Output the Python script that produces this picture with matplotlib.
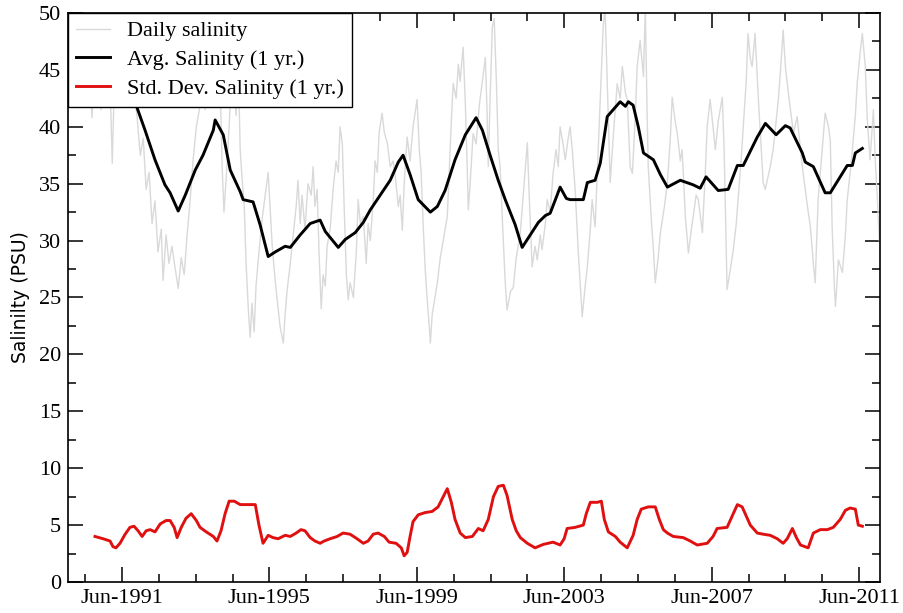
import matplotlib
matplotlib.use("Agg")
import matplotlib.pyplot as plt
import matplotlib.dates as mdates
import numpy as np
import pandas as pd

# daily salinity record (decimal year, PSU)
daily_year = [
    1990.06, 1990.17, 1990.28, 1990.39, 1990.44, 1990.52, 1990.60, 1990.66, 1990.77, 1990.85,
    1990.93, 1991.04, 1991.09, 1991.15, 1991.20, 1991.31, 1991.42, 1991.53, 1991.63, 1991.74,
    1991.82, 1991.91, 1991.99, 1992.07, 1992.15, 1992.23, 1992.31, 1992.39, 1992.48, 1992.53,
    1992.61, 1992.69, 1992.77, 1992.86, 1992.94, 1993.02, 1993.10, 1993.18, 1993.26, 1993.34,
    1993.43, 1993.51, 1993.59, 1993.67, 1993.75, 1993.83, 1993.91, 1993.99, 1994.08, 1994.13,
    1994.18, 1994.27, 1994.35, 1994.43, 1994.51, 1994.56, 1994.62, 1994.67, 1994.73, 1994.78,
    1994.84, 1994.89, 1994.94, 1995.00, 1995.05, 1995.13, 1995.22, 1995.30, 1995.38, 1995.43,
    1995.49, 1995.57, 1995.65, 1995.70, 1995.79, 1995.84, 1995.89, 1995.98, 1996.06, 1996.14,
    1996.19, 1996.25, 1996.30, 1996.38, 1996.46, 1996.55, 1996.60, 1996.65, 1996.71, 1996.76,
    1996.82, 1996.87, 1996.93, 1996.98, 1997.06, 1997.14, 1997.22, 1997.28, 1997.33, 1997.39,
    1997.44, 1997.50, 1997.55, 1997.60, 1997.69, 1997.77, 1997.82, 1997.88, 1997.96, 1998.04,
    1998.09, 1998.15, 1998.23, 1998.28, 1998.34, 1998.39, 1998.47, 1998.53, 1998.61, 1998.69,
    1998.77, 1998.83, 1998.91, 1998.96, 1999.02, 1999.07, 1999.15, 1999.23, 1999.31, 1999.42,
    1999.48, 1999.53, 1999.59, 1999.64, 1999.69, 1999.75, 1999.78, 1999.83, 1999.88, 1999.97,
    2000.05, 2000.13, 2000.24, 2000.29, 2000.35, 2000.40, 2000.48, 2000.54, 2000.59, 2000.67,
    2000.73, 2000.78, 2000.81, 2000.86, 2000.94, 2001.02, 2001.11, 2001.19, 2001.27, 2001.32,
    2001.35, 2001.40, 2001.46, 2001.51, 2001.57, 2001.62, 2001.67, 2001.73, 2001.81, 2001.86,
    2001.95, 2002.03, 2002.11, 2002.22, 2002.30, 2002.41, 2002.46, 2002.54, 2002.62, 2002.68,
    2002.76, 2002.81, 2002.90, 2002.95, 2003.03, 2003.11, 2003.19, 2003.25, 2003.30, 2003.38,
    2003.44, 2003.52, 2003.57, 2003.63, 2003.71, 2003.79, 2003.85, 2003.90, 2003.98, 2004.04,
    2004.12, 2004.17, 2004.25, 2004.31, 2004.39, 2004.47, 2004.52, 2004.58, 2004.66, 2004.74,
    2004.85, 2004.93, 2004.99, 2005.07, 2005.12, 2005.20, 2005.26, 2005.34, 2005.39, 2005.47,
    2005.56, 2005.61, 2005.66, 2005.69, 2005.77, 2005.83, 2005.88, 2005.96, 2006.02, 2006.13,
    2006.21, 2006.29, 2006.34, 2006.42, 2006.48, 2006.56, 2006.61, 2006.70, 2006.78, 2006.86,
    2006.91, 2006.99, 2007.05, 2007.16, 2007.24, 2007.29, 2007.37, 2007.45, 2007.51, 2007.59,
    2007.70, 2007.75, 2007.78, 2007.83, 2007.92, 2008.00, 2008.08, 2008.13, 2008.21, 2008.27,
    2008.35, 2008.40, 2008.46, 2008.51, 2008.59, 2008.68, 2008.76, 2008.81, 2008.87, 2008.92,
    2009.00, 2009.08, 2009.16, 2009.22, 2009.30, 2009.35, 2009.41, 2009.49, 2009.54, 2009.63,
    2009.73, 2009.82, 2009.87, 2009.95, 2010.01, 2010.09, 2010.17, 2010.22, 2010.30, 2010.36,
    2010.41, 2010.49, 2010.58, 2010.63, 2010.68, 2010.74, 2010.77, 2010.85, 2010.96, 2011.04,
    2011.09, 2011.17, 2011.23, 2011.31, 2011.36, 2011.44, 2011.50, 2011.58, 2011.63, 2011.71,
    2011.80, 2011.85, 2011.91, 2011.96,
]
daily_salinity = [
    44.0, 46.5, 44.5, 42.0, 45.5, 47.0, 40.8, 44.5, 46.0, 41.5,
    45.0, 47.5, 44.0, 36.8, 43.0, 46.0, 44.5, 47.0, 45.0, 43.0,
    41.0, 37.5, 39.0, 34.5, 36.0, 31.5, 33.5, 29.0, 31.0, 26.5,
    30.5, 28.0, 29.5, 27.5, 25.8, 28.5, 27.0, 30.5, 33.5, 37.0,
    40.0, 41.5, 44.0, 41.5, 46.0, 48.0, 45.0, 47.5, 43.5, 36.5,
    32.5, 37.0, 42.0, 45.0, 41.0, 46.5, 38.0, 35.5, 33.0, 28.0,
    24.0, 21.5, 24.5, 22.0, 26.0, 29.0, 32.0, 34.0, 36.0, 33.0,
    29.5, 26.5, 24.0, 22.5, 21.0, 23.5, 25.5, 28.0, 30.5, 33.0,
    35.3, 31.5, 34.0, 31.0, 35.0, 34.0, 36.5, 33.0, 34.5, 29.0,
    24.0, 27.0, 26.0, 29.5, 31.0, 34.5, 37.0, 36.0, 40.0, 38.5,
    33.0, 27.0, 24.8, 26.3, 25.0, 29.0, 33.6, 31.5, 32.1, 28.0,
    31.5, 30.0, 33.5, 37.0, 36.0, 39.5, 41.2, 39.5, 38.6, 36.5,
    37.0, 35.6, 33.0, 34.0, 30.9, 35.0, 39.1, 37.0, 40.0, 42.4,
    38.0, 36.0, 31.0, 27.5, 25.0, 22.5, 21.0, 23.5, 24.5, 26.3,
    28.5, 30.0, 32.1, 36.0, 40.5, 43.8, 42.5, 45.5, 44.0, 47.0,
    42.0, 36.5, 32.7, 35.0, 39.4, 38.5, 42.0, 44.0, 46.1, 41.0,
    36.5, 42.5, 48.8, 49.5, 44.0, 38.0, 36.5, 32.0, 26.3, 23.9,
    25.5, 25.9, 28.5, 30.7, 34.0, 38.6, 34.0, 27.7, 29.5, 28.3,
    30.5, 29.2, 31.5, 33.6, 32.5, 35.9, 38.0, 36.5, 40.0, 38.5,
    37.1, 39.0, 40.0, 38.0, 34.4, 29.2, 26.0, 23.3, 26.0, 27.7,
    31.0, 33.6, 31.2, 36.0, 42.4, 48.8, 50.5, 44.0, 35.1, 39.0,
    43.8, 42.5, 45.3, 43.0, 42.4, 36.5, 35.9, 41.0, 45.3, 47.6,
    44.4, 50.5, 41.0, 36.5, 32.0, 29.2, 26.3, 28.5, 30.7, 33.0,
    35.1, 39.0, 42.6, 40.5, 39.4, 37.0, 38.0, 32.0, 28.9, 31.0,
    32.1, 34.0, 33.6, 30.7, 36.0, 40.0, 42.4, 40.0, 38.0, 40.5,
    42.6, 38.0, 33.6, 25.7, 27.5, 29.2, 31.5, 33.6, 37.0, 40.0,
    44.0, 48.2, 46.0, 45.3, 48.2, 42.4, 38.0, 35.1, 34.5, 35.3,
    36.5, 38.0, 40.5, 42.4, 46.0, 48.5, 45.3, 43.0, 41.7, 39.4,
    40.9, 38.0, 36.5, 34.5, 33.0, 31.2, 28.0, 26.3, 33.6, 36.0,
    38.0, 41.2, 40.0, 38.8, 31.2, 26.0, 24.2, 28.3, 27.2, 30.5,
    33.6, 36.0, 38.0, 41.0, 43.8, 46.5, 48.2, 45.3, 40.9, 37.1,
    41.5, 37.0, 33.6, 30.0,
]

# one-year running mean
avg_year = [
    1990.68, 1991.25, 1991.60, 1991.82, 1992.04, 1992.31, 1992.58, 1992.72, 1992.94, 1993.13,
    1993.40, 1993.61, 1993.89, 1993.94, 1994.16, 1994.35, 1994.62, 1994.70, 1994.97, 1995.16,
    1995.38, 1995.57, 1995.84, 1995.98, 1996.25, 1996.52, 1996.79, 1996.93, 1997.28, 1997.47,
    1997.74, 1997.96, 1998.15, 1998.42, 1998.69, 1998.91, 1999.04, 1999.23, 1999.45, 1999.78,
    1999.97, 2000.18, 2000.45, 2000.73, 2001.02, 2001.19, 2001.40, 2001.62, 2001.81, 2002.08,
    2002.27, 2002.49, 2002.71, 2002.90, 2003.03, 2003.22, 2003.30, 2003.47, 2003.57, 2003.93,
    2004.04, 2004.25, 2004.39, 2004.58, 2004.74, 2004.93, 2005.07, 2005.15, 2005.28, 2005.42,
    2005.56, 2005.83, 2006.02, 2006.21, 2006.56, 2006.91, 2007.10, 2007.26, 2007.59, 2007.86,
    2008.11, 2008.27, 2008.65, 2008.87, 2009.16, 2009.41, 2009.54, 2009.87, 2009.95, 2010.17,
    2010.49, 2010.63, 2011.09, 2011.23, 2011.31, 2011.50,
]
avg_salinity = [
    44.0, 44.5, 43.5, 41.7, 39.7, 37.1, 34.9, 34.2, 32.6, 34.0,
    36.2, 37.5, 39.7, 40.6, 39.3, 36.2, 34.3, 33.6, 33.4, 31.4,
    28.6, 29.0, 29.5, 29.4, 30.5, 31.5, 31.8, 30.8, 29.4, 30.1,
    30.7, 31.6, 32.7, 34.0, 35.3, 36.9, 37.5, 35.8, 33.6, 32.5,
    33.0, 34.4, 37.1, 39.3, 40.8, 39.7, 37.5, 35.3, 33.6, 31.4,
    29.4, 30.5, 31.6, 32.2, 32.4, 34.0, 34.7, 33.7, 33.6, 33.6,
    35.1, 35.3, 36.8, 40.9, 41.5, 42.2, 41.8, 42.2, 41.9, 40.0,
    37.7, 37.1, 35.8, 34.7, 35.3, 34.9, 34.6, 35.6, 34.4, 34.5,
    36.6, 36.6, 39.1, 40.3, 39.3, 40.1, 39.9, 37.7, 36.9, 36.5,
    34.2, 34.2, 36.6, 36.6, 37.7, 38.1,
]

# one-year running standard deviation
std_year = [
    1990.68, 1990.90, 1991.09, 1991.17, 1991.25, 1991.36, 1991.50, 1991.63, 1991.74, 1991.85,
    1991.96, 1992.07, 1992.18, 1992.31, 1992.45, 1992.61, 1992.72, 1992.83, 1992.91, 1993.02,
    1993.15, 1993.29, 1993.43, 1993.53, 1993.70, 1993.89, 1993.99, 1994.10, 1994.21, 1994.32,
    1994.46, 1994.62, 1994.84, 1995.03, 1995.13, 1995.24, 1995.38, 1995.51, 1995.65, 1995.84,
    1995.98, 1996.14, 1996.27, 1996.38, 1996.52, 1996.65, 1996.79, 1996.90, 1997.06, 1997.25,
    1997.41, 1997.60, 1997.79, 1997.96, 1998.09, 1998.23, 1998.36, 1998.53, 1998.66, 1998.85,
    1998.99, 1999.07, 1999.15, 1999.23, 1999.31, 1999.45, 1999.64, 1999.83, 1999.99, 2000.13,
    2000.24, 2000.35, 2000.45, 2000.59, 2000.73, 2000.92, 2001.08, 2001.21, 2001.35, 2001.49,
    2001.62, 2001.76, 2001.86, 2002.00, 2002.11, 2002.22, 2002.41, 2002.62, 2002.84, 2003.11,
    2003.30, 2003.41, 2003.49, 2003.71, 2003.93, 2004.01, 2004.12, 2004.31, 2004.42, 2004.50,
    2004.61, 2004.80, 2004.93, 2005.12, 2005.28, 2005.39, 2005.50, 2005.69, 2005.88, 2005.99,
    2006.10, 2006.21, 2006.37, 2006.64, 2006.83, 2007.02, 2007.29, 2007.45, 2007.56, 2007.83,
    2007.97, 2008.11, 2008.24, 2008.35, 2008.46, 2008.65, 2008.81, 2009.00, 2009.19, 2009.35,
    2009.46, 2009.60, 2009.71, 2009.82, 2010.03, 2010.17, 2010.36, 2010.55, 2010.71, 2010.90,
    2011.04, 2011.17, 2011.31, 2011.39, 2011.50,
]
std_salinity = [
    4.0, 3.8, 3.6, 3.1, 3.0, 3.4, 4.2, 4.8, 4.9, 4.5,
    4.0, 4.5, 4.6, 4.4, 5.1, 5.4, 5.4, 4.8, 3.9, 4.8,
    5.6, 6.0, 5.4, 4.8, 4.4, 4.0, 3.6, 4.5, 6.0, 7.1,
    7.1, 6.8, 6.8, 6.8, 5.0, 3.4, 4.1, 3.9, 3.8, 4.1,
    4.0, 4.3, 4.6, 4.5, 3.9, 3.6, 3.4, 3.6, 3.8, 4.0,
    4.3, 4.2, 3.8, 3.4, 3.6, 4.2, 4.3, 4.0, 3.5, 3.4,
    3.0, 2.3, 2.6, 4.0, 5.3, 5.9, 6.1, 6.2, 6.6, 7.5,
    8.2, 7.0, 5.5, 4.3, 3.9, 4.0, 4.7, 4.5, 5.5, 7.5,
    8.4, 8.5, 7.6, 5.5, 4.5, 3.9, 3.4, 3.0, 3.3, 3.5,
    3.25, 3.8, 4.7, 4.8, 5.0, 6.0, 7.0, 7.0, 7.1, 5.5,
    4.4, 4.0, 3.5, 3.0, 4.1, 5.5, 6.4, 6.6, 6.6, 5.5,
    4.6, 4.3, 4.0, 3.9, 3.6, 3.25, 3.4, 4.0, 4.7, 4.8,
    5.8, 6.8, 6.6, 5.8, 5.0, 4.3, 4.2, 4.1, 3.8, 3.4,
    3.8, 4.7, 3.9, 3.25, 3.0, 4.3, 4.6, 4.6, 4.8, 5.5,
    6.3, 6.5, 6.4, 5.0, 4.9,
]

# labelled ticks fall in June every fourth year
major_tick_years = [1991, 1995, 1999, 2003, 2007, 2011]


def to_dates(years):
    years = np.asarray(years, dtype=float)
    whole = years.astype(int)
    start = pd.to_datetime(whole.astype(str), format="%Y")
    return start + pd.to_timedelta((years - whole) * 365.25, unit="D")


plt.rcParams["font.family"] = ["Liberation Serif", "DejaVu Serif"]

fig = plt.figure(figsize=(9.04, 6.13), dpi=100)
ax = fig.add_axes([0.0752, 0.0506, 0.8983, 0.9282])

ax.plot(to_dates(daily_year), daily_salinity, color="#d9d9d9", lw=1.0, label="Daily salinity")
ax.plot(to_dates(avg_year), avg_salinity, color="black", lw=2.1, label="Avg. Salinity (1 yr.)")
ax.plot(to_dates(std_year), std_salinity, color="#e01010", lw=2.1, label="Std. Dev. Salinity (1 yr.)")

ax.set_xlim(pd.Timestamp("1989-12-13"), pd.Timestamp("2011-12-25"))
ax.set_ylim(0, 50)
ax.set_xticks([pd.Timestamp(year=y, month=6, day=1) for y in major_tick_years])
ax.xaxis.set_minor_locator(mdates.YearLocator(1, month=6))
ax.xaxis.set_major_formatter(mdates.DateFormatter("%b-%Y"))
ax.set_yticks(np.arange(0, 51, 5))
ax.set_yticks(np.arange(0, 50, 2.5), minor=True)

ax.tick_params(which="both", direction="in", top=True, right=True, width=1.1, labelsize=16)
ax.tick_params(which="major", length=11, pad=5)
ax.tick_params(which="minor", length=6)
for spine in ax.spines.values():
    spine.set_linewidth(1.2)

ax.set_ylabel("Salinilty (PSU)", family="DejaVu Sans", fontsize=13.5, labelpad=6)

leg = ax.legend(loc="upper left", borderaxespad=0, fancybox=False, framealpha=1,
                edgecolor="black", fontsize=16, handlelength=1.55, handletextpad=0.75,
                borderpad=0.35, labelspacing=0.37)
leg.get_frame().set_linewidth(1.0)

fig.savefig("out.png", dpi=100)
